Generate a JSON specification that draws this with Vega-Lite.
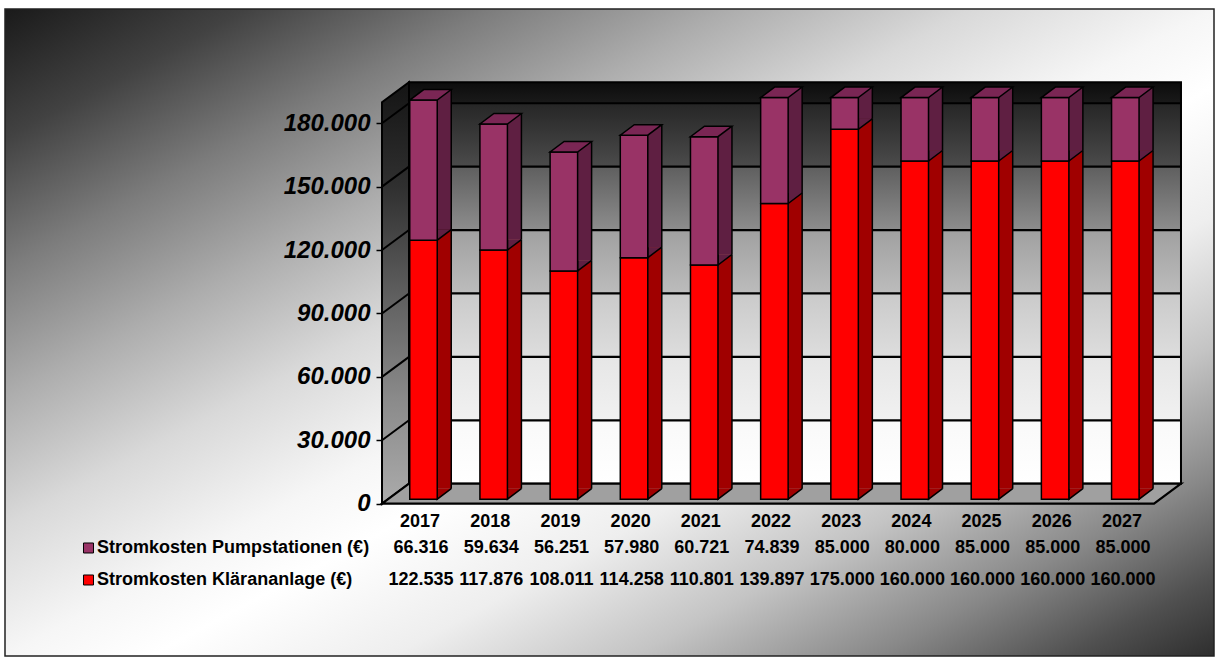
{
  "$schema": "https://vega.github.io/schema/vega-lite/v6.json",
  "width": 1209,
  "height": 647,
  "padding": {"left": 5, "top": 9, "right": 7, "bottom": 8},
  "autosize": {"type": "none"},
  "background": "white",
  "view": {
    "fill": {"gradient": "linear", "x1": 0, "y1": 0, "x2": 1, "y2": 1, "stops": [
      {"offset": 0, "color": "#1a1a1a"}, {"offset": 0.1, "color": "#424242"}, {"offset": 0.2, "color": "#7c7c7c"},
      {"offset": 0.3, "color": "#adadad"}, {"offset": 0.4, "color": "#d9d9d9"}, {"offset": 0.5, "color": "#f6f6f6"},
      {"offset": 0.56, "color": "#ffffff"}, {"offset": 0.66, "color": "#eeeeee"}, {"offset": 0.76, "color": "#c4c4c4"},
      {"offset": 0.86, "color": "#888888"}, {"offset": 0.94, "color": "#505050"}, {"offset": 1, "color": "#2e2e2e"}]},
    "stroke": "#222222",
    "strokeWidth": 1.5
  },
  "config": {
    "locale": {"number": {"decimal": ",", "thousands": ".", "grouping": [3], "currency": ["", " €"]}},
    "font": "Liberation Sans"
  },
  "data": {"values": [
    {"year": "2017", "series": "Stromkosten Klärananlage (€)", "value": 122535},
    {"year": "2018", "series": "Stromkosten Klärananlage (€)", "value": 117876},
    {"year": "2019", "series": "Stromkosten Klärananlage (€)", "value": 108011},
    {"year": "2020", "series": "Stromkosten Klärananlage (€)", "value": 114258},
    {"year": "2021", "series": "Stromkosten Klärananlage (€)", "value": 110801},
    {"year": "2022", "series": "Stromkosten Klärananlage (€)", "value": 139897},
    {"year": "2023", "series": "Stromkosten Klärananlage (€)", "value": 175000},
    {"year": "2024", "series": "Stromkosten Klärananlage (€)", "value": 160000},
    {"year": "2025", "series": "Stromkosten Klärananlage (€)", "value": 160000},
    {"year": "2026", "series": "Stromkosten Klärananlage (€)", "value": 160000},
    {"year": "2027", "series": "Stromkosten Klärananlage (€)", "value": 160000},
    {"year": "2017", "series": "Stromkosten Pumpstationen (€)", "value": 66316},
    {"year": "2018", "series": "Stromkosten Pumpstationen (€)", "value": 59634},
    {"year": "2019", "series": "Stromkosten Pumpstationen (€)", "value": 56251},
    {"year": "2020", "series": "Stromkosten Pumpstationen (€)", "value": 57980},
    {"year": "2021", "series": "Stromkosten Pumpstationen (€)", "value": 60721},
    {"year": "2022", "series": "Stromkosten Pumpstationen (€)", "value": 74839},
    {"year": "2023", "series": "Stromkosten Pumpstationen (€)", "value": 85000},
    {"year": "2024", "series": "Stromkosten Pumpstationen (€)", "value": 80000},
    {"year": "2025", "series": "Stromkosten Pumpstationen (€)", "value": 85000},
    {"year": "2026", "series": "Stromkosten Pumpstationen (€)", "value": 85000},
    {"year": "2027", "series": "Stromkosten Pumpstationen (€)", "value": 85000}
  ]},
  "transform": [
    {"stack": "value", "groupby": ["year"], "sort": [{"field": "series", "order": "ascending"}], "as": ["v0", "v1"]}
  ],
  "layer": [
    {
      "transform": [{"filter": "datum.year == '2017' && datum.v0 == 0"}],
      "mark": {"type": "point", "shape": "M-8.09,-20L763.9,-20L763.9,-421.5L-8.09,-421.5Z", "size": 4, "filled": true, "opacity": 1,
        "fill": {"gradient": "linear", "x1": 0, "y1": 0, "x2": 0, "y2": 1, "stops": [
          {"offset": 0, "color": "#0c0c0c"}, {"offset": 0.0526, "color": "#1a1a1a"}, {"offset": 0.0527, "color": "#262626"},
          {"offset": 0.2105, "color": "#4b4b4b"}, {"offset": 0.2106, "color": "#5f5f5f"}, {"offset": 0.3684, "color": "#8d8d8d"},
          {"offset": 0.3685, "color": "#a0a0a0"}, {"offset": 0.5263, "color": "#bcbcbc"}, {"offset": 0.5264, "color": "#cacaca"},
          {"offset": 0.6842, "color": "#dddddd"}, {"offset": 0.6843, "color": "#e6e6e6"}, {"offset": 0.8421, "color": "#f1f1f1"},
          {"offset": 0.8422, "color": "#f9f9f9"}, {"offset": 1, "color": "#ffffff"}]},
        "stroke": "black", "strokeWidth": 2},
      "encoding": {
        "x": {"field": "year", "type": "ordinal",
          "scale": {"type": "band", "domain": ["2017","2018","2019","2020","2021","2022","2023","2024","2025","2026","2027"],
            "range": [377, 1149], "paddingInner": 0, "paddingOuter": 0, "round": false},
          "axis": null},
        "y": {"field": "v0", "type": "quantitative",
          "scale": {"domain": [-72060, 190000], "range": [647, 93.1], "clamp": true, "zero": false, "nice": false},
          "axis": {"values": [0, 30000, 60000, 90000, 120000, 150000, 180000], "format": ",.0f", "offset": -377,
            "domain": false, "grid": false, "ticks": true, "tickSize": 6, "tickColor": "black", "tickWidth": 1.5,
            "labelFont": "Liberation Sans", "labelFontSize": 24, "labelFontWeight": "bold", "labelFontStyle": "italic",
            "labelColor": "black", "labelPadding": 6, "labelOverlap": false, "title": null, "zindex": 1}}
      }
    },
    {
      "transform": [{"filter": "datum.year == '2017' && datum.v0 == 0"}],
      "mark": {"type": "point", "shape": "M-35.09,0L-35.09,-401.5L-8.09,-421.5L-8.09,-20Z", "size": 4, "filled": true, "opacity": 1,
        "fill": {"gradient": "linear", "x1": 0, "y1": 0, "x2": 0, "y2": 1, "stops": [
          {"offset": 0, "color": "#141414"}, {"offset": 0.25, "color": "#303030"}, {"offset": 0.5, "color": "#5e5e5e"},
          {"offset": 0.75, "color": "#8a8a8a"}, {"offset": 1, "color": "#ababab"}]},
        "stroke": "black", "strokeWidth": 2},
      "encoding": {
        "x": {"field": "year", "type": "ordinal", "axis": null},
        "y": {"field": "v0", "type": "quantitative", "axis": {"title": null}}
      }
    },
    {
      "transform": [{"filter": "datum.year == '2017' && datum.v0 == 0"}],
      "mark": {"type": "point", "shape": "M-35.09,0L736.9,0L763.9,-20L-8.09,-20Z", "size": 4, "filled": true, "opacity": 1,
        "fill": "#a0a0a0", "stroke": "black", "strokeWidth": 2.2},
      "encoding": {
        "x": {"field": "year", "type": "ordinal", "axis": null},
        "y": {"field": "v0", "type": "quantitative", "axis": {"title": null}}
      }
    },
    {
      "data": {"values": [{"t": 30000}, {"t": 60000}, {"t": 90000}, {"t": 120000}, {"t": 150000}, {"t": 180000}]},
      "mark": {"type": "rule", "color": "black", "strokeWidth": 2.2, "xOffset": -8.09, "x2Offset": 63, "yOffset": -20},
      "encoding": {
        "x": {"datum": "2017", "type": "ordinal", "axis": null},
        "x2": {"datum": "2027"},
        "y": {"field": "t", "type": "quantitative", "axis": {"title": null}}
      }
    },
    {
      "data": {"values": [{"t": 30000}, {"t": 60000}, {"t": 90000}, {"t": 120000}, {"t": 150000}, {"t": 180000}]},
      "mark": {"type": "rule", "color": "black", "strokeWidth": 2, "xOffset": -35.09, "x2Offset": -8.09, "y2Offset": -20},
      "encoding": {
        "x": {"datum": "2017", "type": "ordinal", "axis": null},
        "x2": {"datum": "2017"},
        "y": {"field": "t", "type": "quantitative", "axis": {"title": null}},
        "y2": {"field": "t"}
      }
    },
    {
      "mark": {"type": "bar", "width": 14, "xOffset": 27.15, "yOffset": -15, "y2Offset": -15, "strokeWidth": 0},
      "encoding": {
        "x": {"field": "year", "type": "ordinal", "axis": null},
        "y": {"field": "v1", "type": "quantitative", "axis": {"title": null}},
        "y2": {"field": "v0"},
        "fill": {"condition": {"test": "datum.v0 == 0", "value": "#a00000"}, "value": "#5f1f42"}
      }
    },
    {
      "mark": {"type": "point", "shape": "M14,-10.5L0,0L0,-10.5", "size": 4, "filled": true, "opacity": 1,
        "stroke": "black", "strokeWidth": 1.5, "xOffset": 20.15, "yOffset": -4.5},
      "encoding": {
        "x": {"field": "year", "type": "ordinal", "axis": null},
        "y": {"field": "v0", "type": "quantitative", "axis": {"title": null}},
        "fill": {"condition": {"test": "datum.v0 == 0", "value": "#a00000"}, "value": "#5f1f42"}
      }
    },
    {
      "mark": {"type": "rule", "color": "black", "strokeWidth": 1.5, "xOffset": 34.15, "yOffset": -15, "y2Offset": -15},
      "encoding": {
        "x": {"field": "year", "type": "ordinal", "axis": null},
        "y": {"field": "v1", "type": "quantitative", "axis": {"title": null}},
        "y2": {"field": "v0"}
      }
    },
    {
      "mark": {"type": "bar", "width": {"band": 0.3918}, "xOffset": 6.4, "yOffset": -4.5, "y2Offset": -4.5,
        "stroke": "black", "strokeWidth": 1.5},
      "encoding": {
        "x": {"field": "year", "type": "ordinal", "axis": null},
        "y": {"field": "v1", "type": "quantitative", "axis": {"title": null}},
        "y2": {"field": "v0"},
        "fill": {"condition": {"test": "datum.v0 == 0", "value": "#ff0000"}, "value": "#993366"}
      }
    },
    {
      "transform": [{"filter": "datum.v0 > 0"}],
      "mark": {"type": "point", "shape": "M-13.75,0L13.75,0L27.75,-10.5L0.25,-10.5Z", "size": 4, "filled": true, "opacity": 1,
        "fill": "#7a2654", "stroke": "black", "strokeWidth": 1.5, "xOffset": 6.4, "yOffset": -4.5},
      "encoding": {
        "x": {"field": "year", "type": "ordinal", "axis": null},
        "y": {"field": "v1", "type": "quantitative", "axis": {"title": null}}
      }
    },
    {
      "transform": [{"filter": "datum.v0 > 0"}],
      "mark": {"type": "text", "font": "Liberation Sans", "fontSize": 18, "fontWeight": "bold", "color": "black", "dx": 3, "baseline": "middle"},
      "encoding": {
        "x": {"field": "year", "type": "ordinal", "axis": null},
        "y": {"datum": -8658, "type": "quantitative", "axis": {"title": null}},
        "text": {"field": "year"}
      }
    },
    {
      "transform": [{"filter": "datum.v0 > 0"}],
      "mark": {"type": "text", "font": "Liberation Sans", "fontSize": 18, "fontWeight": "bold", "color": "black", "dx": 4, "baseline": "middle"},
      "encoding": {
        "x": {"field": "year", "type": "ordinal", "axis": null},
        "y": {"datum": -20959, "type": "quantitative", "axis": {"title": null}},
        "text": {"field": "value", "format": ",.0f"}
      }
    },
    {
      "transform": [{"filter": "datum.v0 == 0"}],
      "mark": {"type": "text", "font": "Liberation Sans", "fontSize": 18, "fontWeight": "bold", "color": "black", "dx": 4, "baseline": "middle"},
      "encoding": {
        "x": {"field": "year", "type": "ordinal", "axis": null},
        "y": {"datum": -36099, "type": "quantitative", "axis": {"title": null}},
        "text": {"field": "value", "format": ",.0f"}
      }
    },
    {
      "transform": [{"filter": "datum.year == '2017' && datum.v0 > 0"}],
      "mark": {"type": "text", "font": "Liberation Sans", "fontSize": 18, "fontWeight": "bold", "color": "black", "dx": -320, "align": "left", "baseline": "middle"},
      "encoding": {
        "x": {"field": "year", "type": "ordinal", "axis": null},
        "y": {"datum": -20959, "type": "quantitative", "axis": {"title": null}},
        "text": {"field": "series"}
      }
    },
    {
      "transform": [{"filter": "datum.year == '2017' && datum.v0 == 0"}],
      "mark": {"type": "text", "font": "Liberation Sans", "fontSize": 18, "fontWeight": "bold", "color": "black", "dx": -320, "align": "left", "baseline": "middle"},
      "encoding": {
        "x": {"field": "year", "type": "ordinal", "axis": null},
        "y": {"datum": -36099, "type": "quantitative", "axis": {"title": null}},
        "text": {"field": "series"}
      }
    },
    {
      "transform": [{"filter": "datum.year == '2017' && datum.v0 > 0"}],
      "mark": {"type": "point", "shape": "square", "size": 100, "filled": true, "opacity": 1, "fill": "#993366", "stroke": "black", "strokeWidth": 1, "xOffset": -328.6},
      "encoding": {
        "x": {"field": "year", "type": "ordinal", "axis": null},
        "y": {"datum": -20959, "type": "quantitative", "axis": {"title": null}}
      }
    },
    {
      "transform": [{"filter": "datum.year == '2017' && datum.v0 == 0"}],
      "mark": {"type": "point", "shape": "square", "size": 100, "filled": true, "opacity": 1, "fill": "#ff0000", "stroke": "black", "strokeWidth": 1, "xOffset": -328.6},
      "encoding": {
        "x": {"field": "year", "type": "ordinal", "axis": null},
        "y": {"datum": -36099, "type": "quantitative", "axis": {"title": null}}
      }
    }
  ]
}
